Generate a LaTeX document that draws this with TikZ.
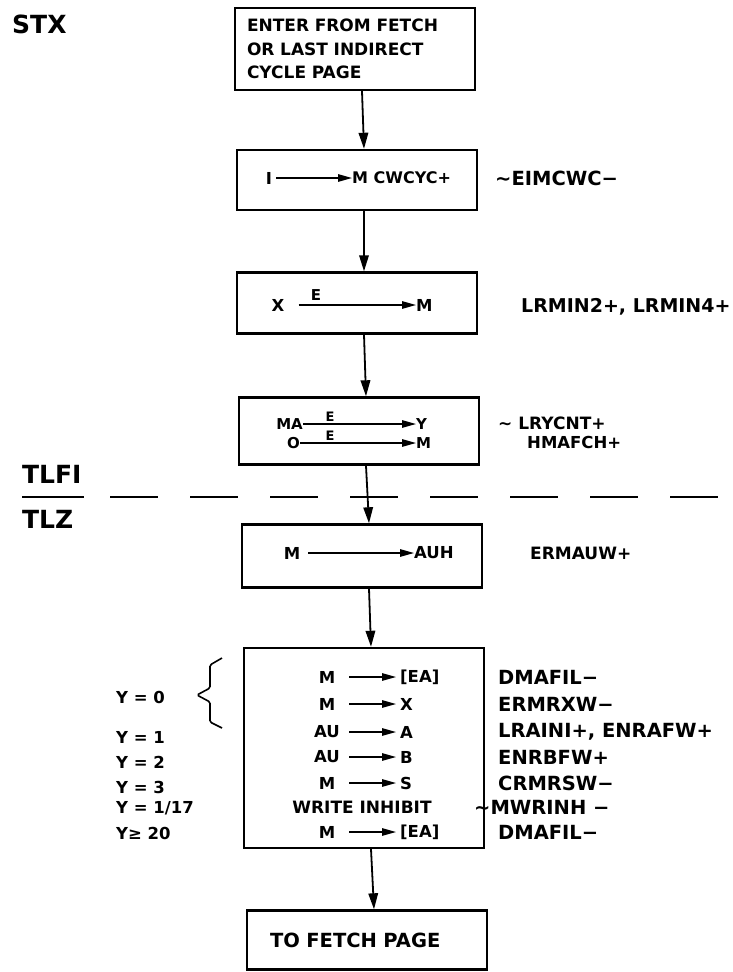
\documentclass[tikz,border=0pt]{standalone}
\usepackage{fontspec}
\setmainfont{DejaVu Sans}[UprightFont=* Bold]
\usetikzlibrary{arrows.meta,positioning}

\begin{document}
\begin{tikzpicture}[x=1pt,y=-1pt,
    box/.style={draw,line width=2.4pt,minimum width=240pt,inner sep=0pt},
    flow/.style={line width=1.8pt,-{Triangle[length=16pt,width=9.5pt]}},
    xfer/.style={line width=1.3pt,-{Triangle[length=14pt,width=7.5pt]}},
    txt/.style={inner sep=0pt,font=\fontsize{#1}{#1}\selectfont},
    txt/.default=16.5]
    \useasboundingbox (0,0) rectangle (732,972);
    \node[txt=25,anchor=west] (stx) at (12,24) {STX};
    % entry box
    \node[box,minimum height=82pt,text width=216pt,align=left,inner xsep=12pt,
        font=\fontsize{17}{23.5}\selectfont] (enter) at (355,49)
        {ENTER FROM FETCH\\OR LAST INDIRECT\\CYCLE PAGE};
    % I -> M
    \node[box,minimum height=60pt] (cwcyc) at (357,180) {};
    \node[txt] (i2) at (269,178) {I};
    \node[txt=16,anchor=west] (m2) at (352,178) {M CWCYC+};
    \draw[xfer,shorten <=4pt] (i2) -- (m2);
    \node[txt=19.5,anchor=west] (eimcwc) at (495,178) {∼EIMCWC−};
    % X -> M
    \node[box,minimum height=61pt] (xm) at (357,303) {};
    \node[txt] (x3) at (278,305) {X};
    \node[txt,anchor=west] (m3) at (416,305) {M};
    \draw[xfer,shorten <=14pt] (x3) -- node[txt=15,above=4pt,pos=0.24] (e3) {E} (m3);
    \node[txt=19,anchor=west] (lrmin) at (521,307) {LRMIN2+, LRMIN4+};
    % MA -> Y, O -> M
    \node[box,minimum height=67pt] (maym) at (359,431) {};
    \node[txt=15,anchor=east] (ma) at (303,424) {MA};
    \node[txt=15,anchor=west] (ytgt) at (416,424) {Y};
    \node[txt=15,anchor=east] (o4) at (300,443) {O};
    \node[txt=15,anchor=west] (m4) at (416,443) {M};
    \draw[xfer] (ma) -- node[txt=13,above=2pt,pos=0.24] (e4a) {E} (ytgt);
    \draw[xfer] (o4) -- node[txt=13,above=2pt,pos=0.26] (e4b) {E} (m4);
    \node[txt=17,anchor=west] (lrycnt) at (498,423) {∼ LRYCNT+};
    \node[txt=16.5,anchor=west] (hmafch) at (527,442) {HMAFCH+};
    % page split
    \node[txt=25,anchor=west] (tlfi) at (22,474) {TLFI};
    \node[txt=25,anchor=west] (tlz) at (22,519) {TLZ};
    \draw[line width=2.4pt] (22,497) -- (84,497);
    \draw[line width=2.4pt,dash pattern=on 48pt off 32pt] (110,497) -- (732,497);
    % M -> AUH
    \node[box,minimum height=63pt] (auh) at (362,556) {};
    \node[txt] (m5) at (292,553) {M};
    \node[txt,anchor=west] (auh5) at (414,553) {AUH};
    \draw[xfer,shorten <=8pt] (m5) -- (auh5);
    \node[txt=17,anchor=west] (ermauw) at (530,553) {ERMAUW+};
    % decode on Y
    \node[box,minimum height=200pt] (ycase) at (364,748) {};
    \foreach \s/\d/\r/\y [count=\i] in {M/{[EA]}/DMAFIL−/677, M/X/ERMRXW−/704,
        AU/A/{LRAINI+, ENRAFW+}/732, AU/B/ENRBFW+/757, M/S/CRMRSW−/783,
        M/{[EA]}/DMAFIL−/832}{%
        \node[txt,minimum width=30pt] (s\i) at (327,\y) {\s};
        \node[txt,anchor=west] (d\i) at (400,\y) {\d};
        \draw[xfer,shorten <=7pt,shorten >=4pt] (s\i) -- (d\i);
        \node[txt=19.5,anchor=west] (r\i) at (498,\y) {\r};
    }
    \node[txt=17] (winh) at (362,807) {WRITE INHIBIT};
    \node[txt=19.5,anchor=west] (mwrinh) at (474,807) {∼MWRINH −};
    \foreach \t/\y [count=\i] in {Y = 0/697, Y = 1/737, Y = 2/762, Y = 3/787,
        {Y = 1/17}/808, {Y≥ 20}/833}
        \node[txt,anchor=west] (yc\i) at (116,\y) {\t};
    \draw[line width=1.6pt,rounded corners=1.5pt] (222,658) -- (210,665) -- (210,688)
        -- (197,695) -- (210,702) -- (210,722) -- (222,728);
    % exit
    \node[box,minimum height=59pt,text width=194pt,align=left,inner xsep=23pt,
        font=\fontsize{19.5}{19.5}\selectfont] (fetch) at (367,940) {TO FETCH PAGE};
    \foreach \a/\b in {enter/cwcyc,cwcyc/xm,xm/maym,maym/auh,auh/ycase,ycase/fetch}
        \draw[flow] ([xshift=7pt]\a.south) -- ([xshift=7pt]\b.north);
\end{tikzpicture}
\end{document}
